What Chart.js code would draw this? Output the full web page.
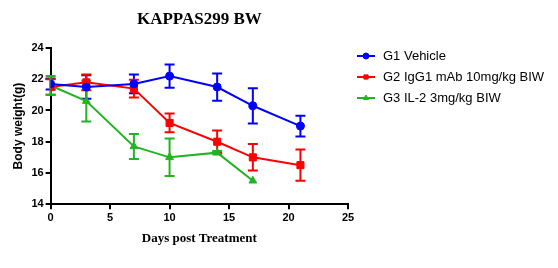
<!DOCTYPE html>
<html>
<head>
  <meta charset="UTF-8">
  <title>KAPPAS299 BW</title>
  <script src="https://cdn.jsdelivr.net/npm/chart.js"></script>
  <style>
    html, body { margin: 0; padding: 0; background: #fff; }
    #wrap { width: 558px; height: 268px; position: relative; }
  </style>
</head>
<body>
  <div id="wrap"><canvas id="grafico"></canvas></div>
  <script>
    const titulo = 'KAPPAS299 BW';
    const tituloX = 'Days post Treatment';
    const tituloY = 'Body weight(g)';

    const g1Dias = [0, 3, 7, 10, 14, 17, 21];
    const g1Peso = [21.7, 21.5, 21.7, 22.2, 21.5, 20.3, 19.0];
    const g1Erro = [0.35, 0.75, 0.6, 0.75, 0.87, 1.13, 0.67];

    const g2Dias = [0, 3, 7, 10, 14, 17, 21];
    const g2Peso = [21.5, 21.8, 21.4, 19.2, 18.0, 17.0, 16.5];
    const g2Erro = [0.5, 0.5, 0.57, 0.6, 0.72, 0.85, 1.0];

    const g3Dias = [0, 3, 7, 10, 14, 17];
    const g3Peso = [21.6, 20.6, 17.7, 17.0, 17.3, 15.5];
    const g3Erro = [0.6, 1.3, 0.8, 1.2, 0.1, 0];

    const nomes = ['G1 Vehicle', 'G2 IgG1 mAb 10mg/kg BIW', 'G3 IL-2 3mg/kg BIW'];
    const cores = ['#0000ff', '#ff0000', '#22b422'];
    const marcadores = ['circle', 'rect', 'triangle'];

    function pontos(dias, peso, erro) {
      return dias.map((d, i) => ({ x: d, y: peso[i], e: erro[i] }));
    }

    const series = [
      pontos(g1Dias, g1Peso, g1Erro),
      pontos(g2Dias, g2Peso, g2Erro),
      pontos(g3Dias, g3Peso, g3Erro)
    ];

    // barras de erro, titulo e legenda desenhados a mao
    const extras = {
      id: 'extras',
      beforeDatasetsDraw(chart) {
        const { ctx, scales: { x, y } } = chart;
        ctx.save();
        ctx.lineWidth = 2;
        chart.data.datasets.forEach(ds => {
          ctx.strokeStyle = ds.borderColor;
          ds.data.forEach(p => {
            if (!p.e) return;
            const px = x.getPixelForValue(p.x);
            const top = y.getPixelForValue(p.y + p.e);
            const bot = y.getPixelForValue(p.y - p.e);
            ctx.beginPath();
            ctx.moveTo(px, top); ctx.lineTo(px, bot);
            ctx.moveTo(px - 5, top); ctx.lineTo(px + 5, top);
            ctx.moveTo(px - 5, bot); ctx.lineTo(px + 5, bot);
            ctx.stroke();
          });
        });
        ctx.restore();
      },
      afterDraw(chart) {
        const { ctx, chartArea } = chart;
        ctx.save();
        ctx.fillStyle = '#000';
        ctx.font = 'bold 17px "Liberation Serif", "Times New Roman", serif';
        ctx.textAlign = 'center';
        ctx.textBaseline = 'middle';
        ctx.fillText(titulo, (chartArea.left + chartArea.right) / 2, 20);

        ctx.font = '13px "Liberation Sans", Arial, sans-serif';
        ctx.textAlign = 'left';
        chart.data.datasets.forEach((ds, k) => {
          const ly = 56 + k * 21;
          ctx.strokeStyle = ds.borderColor;
          ctx.fillStyle = ds.borderColor;
          ctx.lineWidth = 2;
          ctx.beginPath();
          ctx.moveTo(357, ly); ctx.lineTo(375, ly);
          ctx.stroke();
          ctx.lineWidth = 1;
          Chart.helpers.drawPoint(ctx, {
            pointStyle: ds.pointStyle, radius: 3, borderWidth: 1
          }, 366, ly);
          ctx.fillStyle = '#000';
          ctx.fillText(ds.label, 383, ly);
        });
        ctx.restore();
      }
    };

    new Chart(document.getElementById('grafico'), {
      type: 'scatter',
      data: {
        datasets: series.map((dados, k) => ({
          label: nomes[k],
          data: dados,
          showLine: true,
          borderColor: cores[k],
          backgroundColor: cores[k],
          borderWidth: 2,
          pointStyle: marcadores[k],
          pointRadius: k === 0 ? 4 : k === 1 ? 5 : 4.5,
          pointBorderWidth: 1,
          pointHoverRadius: 5
        }))
      },
      options: {
        responsive: true,
        maintainAspectRatio: false,
        animation: false,
        layout: { padding: { left: 11, right: 210, top: 48, bottom: 22 } },
        plugins: {
          legend: { display: false },
          tooltip: { enabled: false }
        },
        scales: {
          x: {
            type: 'linear',
            min: 0, max: 25,
            ticks: {
              stepSize: 5, color: '#000', padding: 2,
              font: { family: '"Liberation Sans", Arial', size: 11, weight: 'bold' }
            },
            grid: { drawOnChartArea: false, color: '#000', lineWidth: 2, tickLength: 5 },
            border: { color: '#000', width: 2 },
            title: {
              display: true, text: tituloX, color: '#000', padding: { top: 4, bottom: 0 },
              font: { family: '"Liberation Serif", "Times New Roman", serif', size: 13, weight: 'bold' }
            }
          },
          y: {
            min: 14, max: 24,
            ticks: {
              stepSize: 2, color: '#000', padding: 2,
              font: { family: '"Liberation Sans", Arial', size: 11, weight: 'bold' }
            },
            grid: { drawOnChartArea: false, color: '#000', lineWidth: 2, tickLength: 5 },
            border: { color: '#000', width: 2 },
            title: {
              display: true, text: tituloY, color: '#000', padding: { top: 0, bottom: 4 },
              font: { family: '"Liberation Sans", Arial', size: 12, weight: 'bold' }
            }
          }
        }
      },
      plugins: [extras]
    });
  </script>
</body>
</html>
